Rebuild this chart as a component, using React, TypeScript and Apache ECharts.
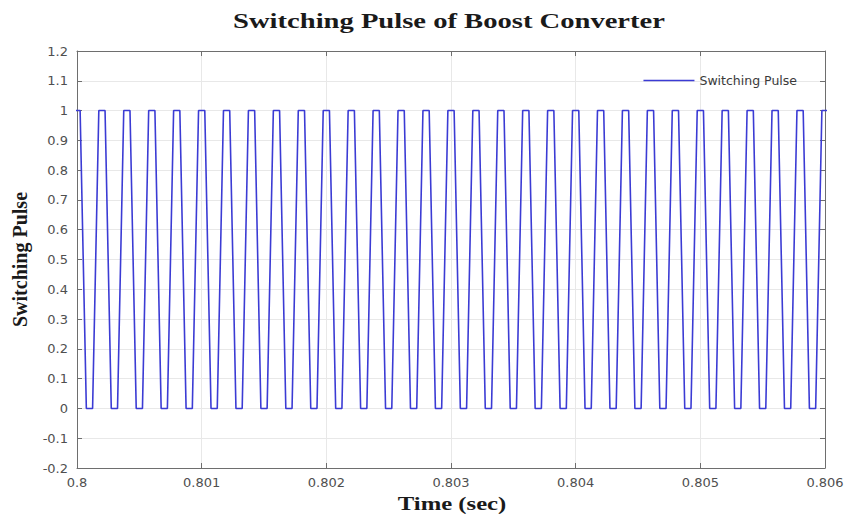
import React, { useEffect, useRef } from "react";
import * as echarts from "echarts";

// Fixed-step gate signal of the boost converter switch (5 kHz, 50 % duty)
const sampleStart = 0.799975; // s, first stored sample
const sampleStep = 5e-5; // s, solver step
const pulseLevels = [
  1, 1, 0, 0, 1, 1, 0, 0, 1, 1, 0, 0, 1, 1, 0, 0, 1, 1, 0, 0,
  1, 1, 0, 0, 1, 1, 0, 0, 1, 1, 0, 0, 1, 1, 0, 0, 1, 1, 0, 0,
  1, 1, 0, 0, 1, 1, 0, 0, 1, 1, 0, 0, 1, 1, 0, 0, 1, 1, 0, 0,
  1, 1, 0, 0, 1, 1, 0, 0, 1, 1, 0, 0, 1, 1, 0, 0, 1, 1, 0, 0,
  1, 1, 0, 0, 1, 1, 0, 0, 1, 1, 0, 0, 1, 1, 0, 0, 1, 1, 0, 0,
  1, 1, 0, 0, 1, 1, 0, 0, 1, 1, 0, 0, 1, 1, 0, 0, 1, 1, 0, 0,
  1, 1,
];

const xMin = 0.8;
const xMax = 0.806;
const xStep = 0.001;
const yMin = -0.2;
const yMax = 1.2;
const yStep = 0.1;

const titleText = "Switching Pulse of Boost Converter";
const seriesName = "Switching Pulse";
const xAxisName = "Time (sec)";
const yAxisName = "Switching Pulse";

const fmt = (v: number) => String(Number(v.toFixed(4)));

export default function App() {
  const ref = useRef<HTMLDivElement>(null);

  useEffect(() => {
    if (!ref.current) return;
    const chart = echarts.init(ref.current, null, { renderer: "svg" });
    const points = pulseLevels.map((lvl, i) => [sampleStart + i * sampleStep, lvl]);

    const axisColor = "#6e6e6e";
    const gridColor = "#e8e8e8";
    const labelColor = "#4f4f4f";
    const serif = "'Liberation Serif', 'Times New Roman', serif";
    const sans = "'DejaVu Sans', 'Liberation Sans', Arial, sans-serif";

    chart.setOption({
      animation: false,
      backgroundColor: "#ffffff",
      graphic: [
        {
          type: "text",
          x: 449,
          y: 21,
          scaleX: 1.3,
          silent: true,
          style: {
            text: titleText,
            fontFamily: serif,
            fontWeight: "bold",
            fontSize: 22,
            fill: "#1a1a1a",
            textAlign: "center",
            textVerticalAlign: "middle",
          },
        },
        {
          type: "text",
          x: 452,
          y: 504,
          scaleX: 1.3,
          silent: true,
          style: {
            text: xAxisName,
            fontFamily: serif,
            fontWeight: "bold",
            fontSize: 19,
            fill: "#1a1a1a",
            textAlign: "center",
            textVerticalAlign: "middle",
          },
        },
      ],
      legend: {
        right: 46,
        top: 69,
        itemWidth: 51,
        itemHeight: 14,
        itemGap: 4,
        data: [{ name: seriesName, icon: "path://M0,6 L51,6 L51,7.5 L0,7.5 Z" }],
        textStyle: { fontFamily: sans, fontSize: 12.5, color: "#3a3a3a", padding: [0, 0, 0, 0] },
      },
      grid: { left: 77, right: 23, top: 51, bottom: 47, containLabel: false },
      xAxis: [
        {
          type: "value",
          min: xMin,
          max: xMax,
          interval: xStep,
          axisLine: { show: true, onZero: false, lineStyle: { color: axisColor, width: 1 } },
          axisTick: { show: true, inside: true, length: 5, lineStyle: { color: axisColor } },
          axisLabel: { color: labelColor, fontFamily: sans, fontSize: 13, margin: 8, formatter: fmt },
          splitLine: { show: true, lineStyle: { color: gridColor, width: 1 } },
        },
        {
          type: "value",
          position: "top",
          min: xMin,
          max: xMax,
          interval: xStep,
          axisLine: { show: true, onZero: false, lineStyle: { color: axisColor, width: 1 } },
          axisTick: { show: true, inside: true, length: 5, lineStyle: { color: axisColor } },
          axisLabel: { show: false },
          splitLine: { show: false },
        },
      ],
      yAxis: [
        {
          type: "value",
          min: yMin,
          max: yMax,
          interval: yStep,
          name: yAxisName,
          nameLocation: "middle",
          nameGap: 47,
          nameRotate: 90,
          nameTextStyle: { fontFamily: serif, fontWeight: "bold", fontSize: 20, color: "#1a1a1a" },
          axisLine: { show: true, onZero: false, lineStyle: { color: axisColor, width: 1 } },
          axisTick: { show: true, inside: true, length: 5, lineStyle: { color: axisColor } },
          axisLabel: { color: labelColor, fontFamily: sans, fontSize: 13, margin: 9, formatter: fmt },
          splitLine: { show: true, lineStyle: { color: gridColor, width: 1 } },
        },
        {
          type: "value",
          position: "right",
          min: yMin,
          max: yMax,
          interval: yStep,
          axisLine: { show: true, onZero: false, lineStyle: { color: axisColor, width: 1 } },
          axisTick: { show: true, inside: true, length: 5, lineStyle: { color: axisColor } },
          axisLabel: { show: false },
          splitLine: { show: false },
        },
      ],
      series: [
        {
          name: seriesName,
          type: "line",
          data: points,
          xAxisIndex: 0,
          yAxisIndex: 0,
          showSymbol: false,
          clip: true,
          lineStyle: { color: "#3b3bd4", width: 1.6 },
          itemStyle: { color: "#3b3bd4" },
        },
      ],
    });
    return () => chart.dispose();
  }, []);

  return <div ref={ref} style={{ width: 848, height: 515, position: "absolute", left: 0, top: 0 }} />;
}
